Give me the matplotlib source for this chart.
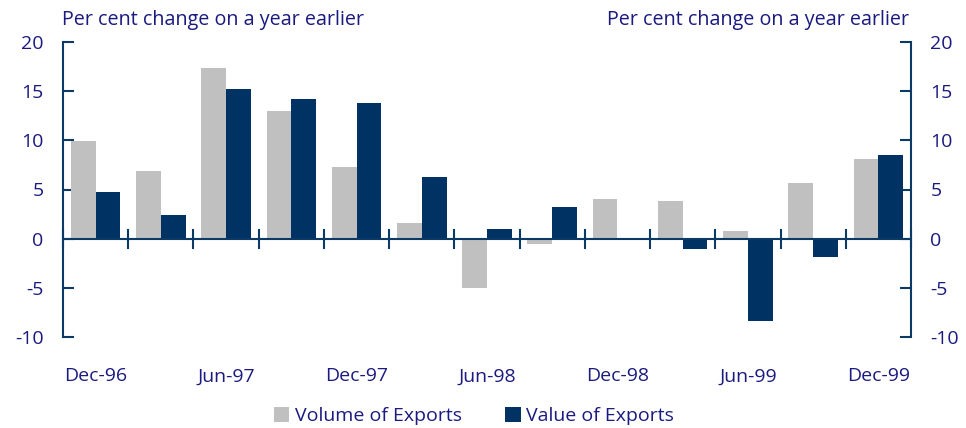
import matplotlib
matplotlib.use("Agg")
import matplotlib.pyplot as plt
import numpy as np

quarters = ["Dec-96", "Mar-97", "Jun-97", "Sep-97", "Dec-97", "Mar-98", "Jun-98",
            "Sep-98", "Dec-98", "Mar-99", "Jun-99", "Sep-99", "Dec-99"]
volume = [9.9, 6.9, 17.4, 13.0, 7.3, 1.6, -5.0, -0.5, 4.0, 3.8, 0.8, 5.7, 8.1]
value = [4.7, 2.4, 15.2, 14.2, 13.8, 6.3, 1.0, 3.2, 0.0, -1.1, -8.4, -1.9, 8.5]
yticks = [-10, -5, 0, 5, 10, 15, 20]

GREY = "#c0c0c0"
NAVY = "#003263"
TEXT = "#1a1a80"
AXC = "#0b3a66"

plt.rcParams['font.family'] = ['Open Sans', 'DejaVu Sans']
plt.rcParams['axes.unicode_minus'] = False

fig = plt.figure(figsize=(9.66, 4.28), dpi=100)
ax = fig.add_axes([63/966, 1-337/428, (911-63)/966, (337-42)/428])

n = len(quarters)
x = np.arange(n) + 0.5
w = 0.38
ax.bar(x - w/2, volume, width=w, color=GREY, label="Volume of Exports", zorder=2)
ax.bar(x + w/2, value, width=w, color=NAVY, label="Value of Exports", zorder=2)

ax.set_xlim(0, n)
ax.set_ylim(-10, 20)

for s in ["top", "bottom"]:
    ax.spines[s].set_visible(False)
for s in ["left", "right"]:
    ax.spines[s].set_color(AXC)
    ax.spines[s].set_linewidth(1.5)

ax.axhline(0, color=AXC, lw=1.5, zorder=3)
# x ticks at category boundaries crossing zero line
for b in range(0, n + 1):
    ax.plot([b, b], [-0.9, 0.9], color=AXC, lw=1.5, zorder=3, clip_on=False)

ax.set_xticks([])
ax.set_yticks(yticks)
ax.tick_params(axis='y', which='both', direction='in', length=8, width=1.5, color=AXC,
               labelcolor=TEXT, labelsize=14, left=True, right=True,
               labelleft=True, labelright=True, pad=14)

# category labels
for i in range(0, n, 2):
    ax.text(x[i], -14.0, quarters[i], ha='center', va='center', color=TEXT, fontsize=14)

fig.text(62/966, 1-20/428, "Per cent change on a year earlier", ha='left', va='center',
         color=TEXT, fontsize=14.2)
fig.text(909/966, 1-20/428, "Per cent change on a year earlier", ha='right', va='center',
         color=TEXT, fontsize=14.2)

leg = fig.legend(loc='center', bbox_to_anchor=(474/966, 1-416/428), ncol=2, frameon=False,
                 fontsize=14, handlelength=0.8, handleheight=0.8, handletextpad=0.3,
                 columnspacing=2.2)
for t in leg.get_texts():
    t.set_color(TEXT)

fig.savefig("out.png", dpi=100)
